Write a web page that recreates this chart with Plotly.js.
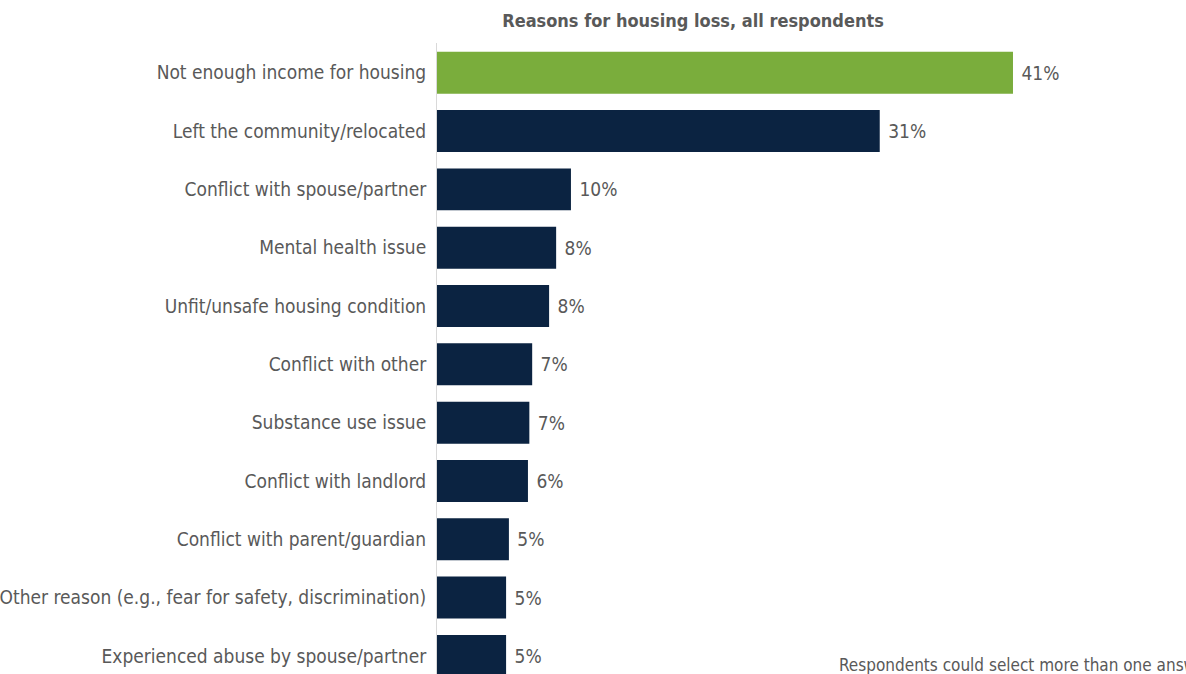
<!DOCTYPE html>
<html>
<head>
<meta charset="utf-8">
<script src="https://cdn.plot.ly/plotly-3.0.1.min.js"></script>
<style>html,body{margin:0;padding:0;background:#fff;overflow:hidden}#chart{width:1186px;height:674px}</style>
</head>
<body>
<div id="chart"></div>
<script>
const categories = [
  "Not enough income for housing",
  "Left the community/relocated",
  "Conflict with spouse/partner",
  "Mental health issue",
  "Unfit/unsafe housing condition",
  "Conflict with other",
  "Substance use issue",
  "Conflict with landlord",
  "Conflict with parent/guardian",
  "Other reason (e.g., fear for safety, discrimination)",
  "Experienced abuse by spouse/partner"
];
const values = [40.85, 31.4, 9.5, 8.45, 7.95, 6.75, 6.55, 6.45, 5.1, 4.9, 4.9];
const valueLabels = ["41%", "31%", "10%", "8%", "8%", "7%", "7%", "6%", "5%", "5%", "5%"];
const highlight = "Not enough income for housing";

const FONT = '"DejaVu Sans Condensed", "Liberation Sans Narrow", Roboto, sans-serif';
const colors = categories.map(c => c === highlight ? "#7aad3c" : "#0b2341");

const trace = {
  type: "bar",
  orientation: "h",
  y: categories,
  x: values,
  text: valueLabels.map(t => " " + t),
  textposition: "outside",
  cliponaxis: false,
  textfont: {family: FONT, size: 19, color: "#595959"},
  marker: {color: colors, line: {width: 0}},
  width: 0.72,
  hoverinfo: "skip"
};

const layout = {
  width: 1186,
  height: 674,
  margin: {l: 437, r: 0, t: 43, b: 0},
  paper_bgcolor: "#ffffff",
  plot_bgcolor: "#ffffff",
  showlegend: false,
  title: {
    text: "<b>Reasons for housing loss, all respondents</b>",
    font: {family: FONT, size: 18, color: "#595959"},
    xref: "container", x: 693/1186, xanchor: "center",
    yref: "container", y: 1 - 21/674, yanchor: "middle"
  },
  xaxis: {range: [0, 749/14.1], visible: false, fixedrange: true},
  yaxis: {
    type: "category",
    range: [10.31, -0.51],
    showline: true, linecolor: "#d9d9d9", linewidth: 1,
    showgrid: false, zeroline: false,
    ticks: "", ticklabelstandoff: 6,
    tickfont: {family: FONT, size: 19, color: "#595959"},
    fixedrange: true
  },
  annotations: [{
    text: "Respondents could select more than one answer",
    xref: "paper", yref: "paper",
    x: (837 - 437) / 749, y: (674 - 665) / 631,
    xanchor: "left", yanchor: "middle",
    showarrow: false,
    font: {family: FONT, size: 17, color: "#595959"}
  }]
};

Plotly.newPlot("chart", [trace], layout, {displayModeBar: false, staticPlot: true});
</script>
</body>
</html>
